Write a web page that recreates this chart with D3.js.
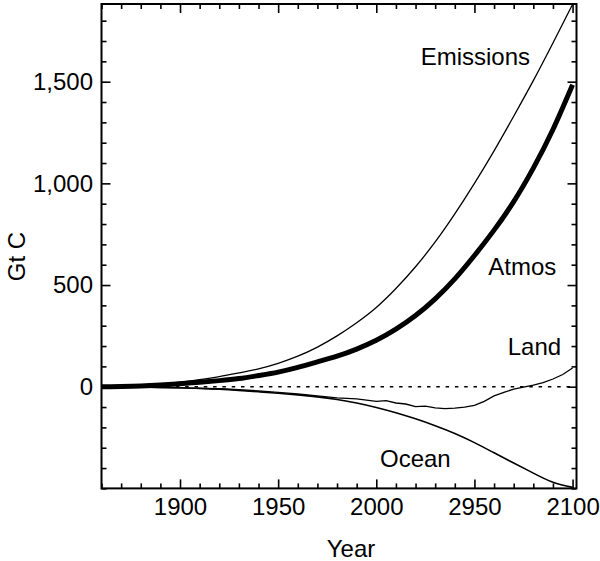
<!DOCTYPE html>
<html>
<head>
<meta charset="utf-8">
<script src="https://cdn.jsdelivr.net/npm/d3@7"></script>
<style>
  html, body { margin: 0; padding: 0; background: #fff; }
  text { font-family: "Liberation Sans", Arial, Helvetica, sans-serif; fill: #000; }
</style>
</head>
<body>
<svg id="chart" width="600" height="561"></svg>
<script>
// ---- data ----
const years10 = [1860,1870,1880,1890,1900,1910,1920,1930,1940,1950,1960,1970,1980,1990,2000,2010,2020,2030,2040,2050,2060,2070,2080,2090,2100];
const emissions = [0,2,6,12,22,35,50,68,88,115,150,195,250,315,390,483,590,712,850,1000,1160,1330,1505,1690,1880];
const atmos     = [0,1,3,8,15,22,30,40,55,72,95,122,150,185,228,283,350,432,530,645,770,910,1075,1265,1485];
const ocean     = [0,-1,-2,-3,-5,-8,-12,-18,-25,-32,-40,-50,-63,-80,-102,-128,-158,-192,-230,-275,-325,-375,-425,-470,-495];
const landYears = [1860,1870,1880,1890,1900,1910,1920,1930,1940,1950,1960,1970,1980,1990,2000,2005,2010,2015,2020,2025,2030,2035,2040,2045,2050,2055,2060,2065,2070,2075,2080,2085,2090,2095,2100];
const land      = [0,0,-2,-4,-6,-8,-10,-15,-20,-28,-35,-45,-55,-60,-72,-68,-80,-85,-98,-95,-104,-108,-105,-100,-92,-72,-45,-28,-12,-2,8,20,38,60,92];
const xTickValues = [1900,1950,2000,2050,2100];
const xTickLabels = ["1900","1950","2000","2950","2100"];
const yTickValues = [0,500,1000,1500];
const yTickLabels = ["0","500","1,000","1,500"];
const seriesLabels = ["Emissions","Atmos","Land","Ocean"];
const xTitle = "Year";
const yTitle = "Gt C";

// ---- layout ----
const svg = d3.select("#chart");
const L = 101.5, R = 576.5, T = 4, B = 488.4;
const x = d3.scaleLinear().domain([1860, 2102]).range([L, R]);
const y = d3.scaleLinear().domain([-500, 1882]).range([B, T]);
const fs = 24;

svg.append("defs").append("clipPath").attr("id","clip")
  .append("rect").attr("x",L).attr("y",T).attr("width",R-L).attr("height",B-T);

// zero dotted line
svg.append("line")
  .attr("x1", L).attr("x2", R).attr("y1", y(0)).attr("y2", y(0))
  .attr("stroke", "#000").attr("stroke-width", 1.6)
  .attr("stroke-dasharray", "3.5,5.8");

const g = svg.append("g").attr("clip-path","url(#clip)");
const line = d3.line().x(d => x(d[0])).y(d => y(d[1]));
const smooth = d3.line().x(d => x(d[0])).y(d => y(d[1])).curve(d3.curveNatural);

g.append("path").datum(d3.zip(years10, emissions)).attr("d", smooth)
  .attr("fill","none").attr("stroke","#000").attr("stroke-width",1.3);
g.append("path").datum(d3.zip(years10, ocean)).attr("d", smooth)
  .attr("fill","none").attr("stroke","#000").attr("stroke-width",1.6);
g.append("path").datum(d3.zip(landYears, land)).attr("d", line)
  .attr("fill","none").attr("stroke","#000").attr("stroke-width",1.3);
g.append("path").datum(d3.zip(years10, atmos)).attr("d", smooth)
  .attr("fill","none").attr("stroke","#000").attr("stroke-width",5)
  .attr("stroke-linejoin","round");

// ---- axes ----
function styleAxis(sel) {
  sel.select(".domain").remove();
  sel.selectAll(".tick line").attr("stroke","#000").attr("stroke-width",1.6);
  sel.selectAll(".tick text").attr("font-size", fs).attr("fill","#000")
     .attr("font-family", '"Liberation Sans", Arial, Helvetica, sans-serif');
}
const xMinor = d3.range(1860, 2101, 10).filter(v => !xTickValues.includes(v));
const yMinor = d3.range(-500, 1881, 100).filter(v => !yTickValues.includes(v));

// bottom
svg.append("g").attr("transform",`translate(0,${B})`)
  .call(d3.axisBottom(x).tickValues(xTickValues).tickFormat((d,i) => xTickLabels[i]).tickSize(-9).tickPadding(10))
  .call(styleAxis);
svg.append("g").attr("transform",`translate(0,${B})`)
  .call(d3.axisBottom(x).tickValues(xMinor).tickFormat("").tickSize(-5))
  .call(styleAxis);
// top
svg.append("g").attr("transform",`translate(0,${T})`)
  .call(d3.axisTop(x).tickValues(xTickValues).tickFormat("").tickSize(-9))
  .call(styleAxis);
svg.append("g").attr("transform",`translate(0,${T})`)
  .call(d3.axisTop(x).tickValues(xMinor).tickFormat("").tickSize(-5))
  .call(styleAxis);
// left
svg.append("g").attr("transform",`translate(${L},0)`)
  .call(d3.axisLeft(y).tickValues(yTickValues).tickFormat((d,i) => yTickLabels[i]).tickSize(-9).tickPadding(8.5))
  .call(styleAxis);
svg.append("g").attr("transform",`translate(${L},0)`)
  .call(d3.axisLeft(y).tickValues(yMinor).tickFormat("").tickSize(-5))
  .call(styleAxis);
// right
svg.append("g").attr("transform",`translate(${R},0)`)
  .call(d3.axisRight(y).tickValues(yTickValues).tickFormat("").tickSize(-9))
  .call(styleAxis);
svg.append("g").attr("transform",`translate(${R},0)`)
  .call(d3.axisRight(y).tickValues(yMinor).tickFormat("").tickSize(-5))
  .call(styleAxis);

// frame
svg.append("rect").attr("x",L).attr("y",T).attr("width",R-L).attr("height",B-T)
  .attr("fill","none").attr("stroke","#000").attr("stroke-width",2);

// titles
svg.append("text").attr("x", 351).attr("y", 557).attr("text-anchor","middle")
  .attr("font-size", fs).text(xTitle);
svg.append("text").attr("transform","translate(25,256.5) rotate(-90)")
  .attr("text-anchor","middle").attr("font-size", fs).text(yTitle);

// series labels
const labelPos = [[420.7,65],[488.3,275],[507.7,355],[380,467.3]];
seriesLabels.forEach((t,i) => {
  svg.append("text").attr("x", labelPos[i][0]).attr("y", labelPos[i][1])
    .attr("font-size", fs).text(t);
});
</script>
</body>
</html>
